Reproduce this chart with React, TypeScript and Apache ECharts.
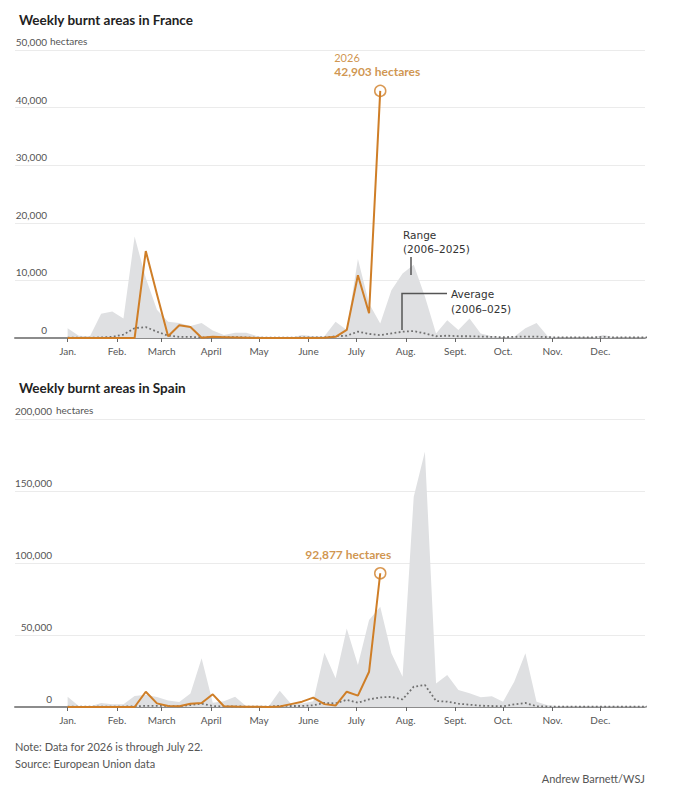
import React, { useEffect, useRef } from 'react';
import * as echarts from 'echarts';

// Month ticks (day of year at which each month starts)
const monthLabels = ['Jan.', 'Feb.', 'March', 'April', 'May', 'June', 'July', 'Aug.', 'Sept.', 'Oct.', 'Nov.', 'Dec.'];
const monthStartDays = [0, 31, 59, 90, 120, 151, 181, 212, 243, 273, 304, 334];

// Weekly values (week 1 starts on day 0, one value per week)
const franceRangeMax = [
  1700, 400, 300, 4200, 4600, 3400, 17600, 10400, 4900, 2800,
  2600, 2100, 2600, 1300, 500, 900, 900, 300, 100, 100,
  100, 500, 300, 300, 2800, 1400, 13700, 6000, 2500, 8300,
  11200, 12700, 7200, 800, 3100, 1400, 3400, 800, 300, 100,
  200, 1700, 2600, 300, 100, 100, 100, 100, 500, 100,
  100, 100, 100,
];
const franceAverage = [
  50, 50, 50, 100, 200, 600, 1700, 1900, 1100, 400,
  200, 200, 100, 150, 150, 150, 100, 50, 50, 50,
  50, 100, 100, 100, 300, 400, 1100, 700, 500, 800,
  1100, 1200, 800, 300, 400, 300, 300, 250, 200, 150,
  200, 250, 250, 150, 100, 100, 100, 100, 200, 100,
  100, 100, 100,
];
const france2026 = [
  0, 0, 0, 0, 0, 0, 0, 15100, 7600, 300,
  2200, 1900, 50, 200, 150, 100, 50, 0, 0, 0,
  0, 0, 0, 50, 200, 1400, 10900, 4300, 42903,
];

const spainRangeMax = [
  7200, 700, 300, 2800, 1900, 1900, 7600, 8500, 7000, 4600,
  3500, 9300, 33800, 3000, 4000, 7200, 500, 300, 300, 11300,
  2300, 2500, 4000, 37700, 20000, 54600, 29200, 60400, 69600, 37300,
  21000, 146000, 177300, 16400, 22200, 11800, 9500, 6700, 7400, 3700,
  17600, 37300, 3700, 1200, 500, 500, 500, 500, 500, 500,
  500, 500, 500,
];
const spainAverage = [
  200, 200, 200, 300, 300, 300, 500, 800, 800, 700,
  500, 1400, 2300, 700, 400, 400, 300, 300, 300, 800,
  700, 700, 1200, 2800, 2500, 5000, 3000, 5300, 6700, 7000,
  5300, 14100, 15300, 4200, 3700, 2300, 1600, 900, 700, 500,
  1800, 2800, 500, 300, 300, 300, 300, 300, 300, 300,
  300, 300, 300,
];
const spain2026 = [
  0, 0, 0, 0, 0, 0, 0, 10600, 2500, 700,
  500, 2300, 2800, 8800, 500, 300, 200, 100, 0, 300,
  2000, 3700, 6500, 2000, 1000, 10600, 7900, 24500, 92877,
];

const franceYTicks = { max: 50000, interval: 10000 };
const spainYTicks = { max: 200000, interval: 50000 };

const ORANGE = '#cf7e27';
const ORANGE_TEXT = '#c47a22';
const RANGE_GRAY = '#dfe0e2';
const AVG_GRAY = '#707070';
const FONT = 'Lato';

const toPairs = (arr: number[]) => arr.map((v, i) => [i * 7, v]);

export default function App() {
  const ref = useRef<HTMLDivElement>(null);

  useEffect(() => {
    document.body.style.margin = '0';
    if (!ref.current) return;
    const chart = echarts.init(ref.current, undefined, { renderer: 'svg' });

    const fmt = (v: number) => Math.round(v).toLocaleString('en-US');

    const makeX = (gridIndex: number) => ({
      type: 'value',
      gridIndex,
      min: -33,
      max: 362,
      splitLine: { show: false },
      axisLine: { show: true, lineStyle: { color: '#8c8c8c', width: 2 } },
      axisTick: {
        show: true,
        customValues: monthStartDays,
        length: 4,
        lineStyle: { color: '#666', width: 1 },
      },
      axisLabel: {
        show: true,
        customValues: monthStartDays,
        formatter: (v: number) => monthLabels[monthStartDays.indexOf(v)] ?? '',
        fontFamily: FONT,
        fontSize: 10,
        color: '#555',
        margin: 8,
      },
    });

    const makeY = (gridIndex: number, ticks: { max: number; interval: number }, margin: number) => ({
      type: 'value',
      gridIndex,
      min: 0,
      max: ticks.max,
      interval: ticks.interval,
      axisLine: { show: false },
      axisTick: { show: false },
      splitLine: { show: true, lineStyle: { color: '#ebebeb', width: 1 } },
      axisLabel: {
        inside: true,
        align: 'right',
        verticalAlign: 'bottom',
        margin,
        padding: [0, 0, 3, 0],
        fontFamily: FONT,
        fontSize: 10,
        color: '#555',
        formatter: (v: number) => fmt(v),
      },
    });

    const rangeSeries = (idx: number, data: number[]) => ({
      type: 'line',
      xAxisIndex: idx,
      yAxisIndex: idx,
      data: toPairs(data),
      symbol: 'none',
      lineStyle: { width: 0, color: RANGE_GRAY },
      areaStyle: { color: RANGE_GRAY, opacity: 1 },
      z: 1,
      silent: true,
    });
    const avgSeries = (idx: number, data: number[]) => ({
      type: 'line',
      xAxisIndex: idx,
      yAxisIndex: idx,
      data: toPairs(data),
      symbol: 'none',
      lineStyle: { width: 1.8, color: AVG_GRAY, type: [1.8, 2.4] },
      z: 2,
      silent: true,
    });
    const curSeries = (idx: number, data: number[]) => ({
      type: 'line',
      xAxisIndex: idx,
      yAxisIndex: idx,
      data: toPairs(data),
      symbol: 'none',
      lineStyle: { width: 2, color: ORANGE },
      z: 3,
      silent: true,
    });
    const endPoint = (idx: number, data: number[], withYear: boolean, offset: number[]) => ({
      type: 'scatter',
      xAxisIndex: idx,
      yAxisIndex: idx,
      data: [[(data.length - 1) * 7, data[data.length - 1]]],
      symbol: 'circle',
      symbolSize: 11,
      itemStyle: { color: 'rgba(255,255,255,0)', borderColor: ORANGE, borderWidth: 1.5 },
      z: 4,
      silent: true,
      label: {
        show: true,
        position: 'top',
        distance: 6,
        offset,
        formatter: (p: any) =>
          (withYear ? '{y|2026}\n' : '') + '{b|' + fmt(p.value[1]) + ' hectares}',
        rich: {
          y: { fontFamily: FONT, fontSize: 11, color: ORANGE_TEXT, align: 'left', lineHeight: 14 },
          b: { fontFamily: FONT, fontSize: 12, fontWeight: 'bold', color: ORANGE_TEXT, lineHeight: 14 },
        },
      },
    });

    const annoText = { fontFamily: 'DejaVu Sans', fontSize: 10.5, fill: '#333' };
    const footText = { fontFamily: FONT, fontSize: 11, fill: '#555' };

    chart.setOption({
      animation: false,
      title: [
        {
          text: 'Weekly burnt areas in France',
          left: 14,
          top: 8,
          textStyle: { fontFamily: FONT, fontSize: 13.5, fontWeight: 'bold', color: '#222' },
        },
        {
          text: 'Weekly burnt areas in Spain',
          left: 14,
          top: 376,
          textStyle: { fontFamily: FONT, fontSize: 13.5, fontWeight: 'bold', color: '#222' },
        },
      ],
      grid: [
        { left: 15, right: 28, top: 50, height: 288 },
        { left: 15, right: 28, top: 419, height: 288 },
      ],
      xAxis: [makeX(0), makeX(1)],
      yAxis: [makeY(0, franceYTicks, 32), makeY(1, spainYTicks, 37)],
      series: [
        rangeSeries(0, franceRangeMax),
        avgSeries(0, franceAverage),
        curSeries(0, france2026),
        endPoint(0, france2026, true, [-3, 0]),
        rangeSeries(1, spainRangeMax),
        avgSeries(1, spainAverage),
        curSeries(1, spain2026),
        endPoint(1, spain2026, false, [-32, 0]),
      ],
      graphic: {
        elements: [
          { type: 'text', z: 100, x: 50, y: 41, style: { text: 'hectares', fontFamily: FONT, fontSize: 10, fill: '#555', verticalAlign: 'middle' } },
          { type: 'text', z: 100, x: 56, y: 410, style: { text: 'hectares', fontFamily: FONT, fontSize: 10, fill: '#555', verticalAlign: 'middle' } },
          { type: 'text', z: 100, x: 403, y: 235, style: { ...annoText, text: 'Range', verticalAlign: 'middle' } },
          { type: 'text', z: 100, x: 403, y: 249, style: { ...annoText, text: '(2006–2025)', verticalAlign: 'middle' } },
          { type: 'line', z: 100, shape: { x1: 411, y1: 257, x2: 411, y2: 275 }, style: { stroke: '#555', lineWidth: 1.5 } },
          { type: 'text', z: 100, x: 451, y: 294, style: { ...annoText, text: 'Average', verticalAlign: 'middle' } },
          { type: 'text', z: 100, x: 451, y: 309, style: { ...annoText, text: '(2006–025)', verticalAlign: 'middle' } },
          {
            type: 'polyline',
            z: 100,
            shape: { points: [[402, 330], [402, 293.5], [447, 293.5]] },
            style: { stroke: '#555', lineWidth: 1.5, fill: 'none' },
          },
          { type: 'text', z: 100, x: 15, y: 746, style: { ...footText, text: 'Note: Data for 2026 is through July 22.', verticalAlign: 'middle' } },
          { type: 'text', z: 100, x: 15, y: 763, style: { ...footText, text: 'Source: European Union data', verticalAlign: 'middle' } },
          { type: 'text', z: 100, x: 645, y: 778, style: { ...footText, text: 'Andrew Barnett/WSJ', align: 'right', verticalAlign: 'middle' } },
        ],
      },
    });

    return () => chart.dispose();
  }, []);

  return <div ref={ref} style={{ width: 673, height: 788 }} />;
}
